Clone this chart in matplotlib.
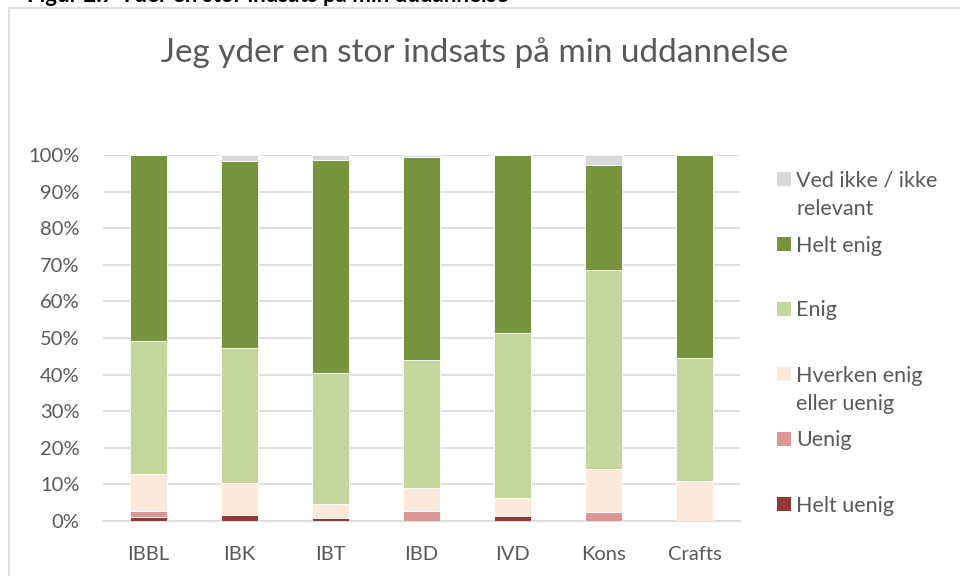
import matplotlib
matplotlib.use("Agg")
import matplotlib.pyplot as plt
from matplotlib.patches import Rectangle
import numpy as np

plt.rcParams['font.family'] = ['Lato', 'DejaVu Sans']

categories = ["IBBL", "IBK", "IBT", "IBD", "IVD", "Kons", "Crafts"]
series_names = ["Helt uenig", "Uenig", "Hverken enig\neller uenig", "Enig", "Helt enig", "Ved ikke / ikke\nrelevant"]
helt_uenig = [1.2, 1.6, 0.9, 0.0, 1.4, 0.0, 0.0]
uenig = [1.5, 0.0, 0.0, 2.8, 0.0, 2.5, 0.0]
hverken = [10.2, 8.7, 3.7, 6.3, 4.9, 11.6, 10.9]
enig = [36.3, 37.1, 35.8, 34.9, 45.2, 54.4, 33.5]
helt_enig = [50.8, 51.0, 58.3, 55.4, 48.5, 28.7, 55.6]
ved_ikke = [0.0, 1.6, 1.3, 0.6, 0.0, 2.8, 0.0]
colors = ["#953735", "#d99694", "#fde9d9", "#c3d69b", "#77933c", "#d9d9d9"]
yticks = [0, 10, 20, 30, 40, 50, 60, 70, 80, 90, 100]
title = "Jeg yder en stor indsats på min uddannelse"
caption = "Figur 2.7 Yder en stor indsats på min uddannelse"

W, H = 960, 576
fig = plt.figure(figsize=(W / 100, H / 100), dpi=100)

def fx(px):
    return px / W

def fy(py):
    return 1 - py / H

# outer chart frame
fig.patches.append(Rectangle((fx(9), fy(590)), fx(980) - fx(9), fy(8) - fy(590),
                             transform=fig.transFigure, fill=False,
                             edgecolor="#d9d9d9", linewidth=1.2))
# cut-off caption at the top edge
fig.text(fx(27), fy(1.5), caption, fontsize=16, fontweight="bold", color="black",
         ha="left", va="baseline")

ax = fig.add_axes([fx(103), fy(521), fx(740) - fx(103), fy(155) - fy(521)])
series = [helt_uenig, uenig, hverken, enig, helt_enig, ved_ikke]
x = np.arange(len(categories))
bottom = np.zeros(len(categories))
for vals, col in zip(series, colors):
    v = np.array(vals) / 100.0
    ax.bar(x, v, bottom=bottom, width=0.4, color=col, edgecolor="white",
           linewidth=0.6, zorder=3)
    bottom += v

ax.set_xlim(-0.5, len(categories) - 0.5)
ax.set_ylim(0, 1.0)
ax.set_yticks([t / 100 for t in yticks])
ax.set_yticklabels([f"{t}%" for t in yticks])
ax.set_xticks(x)
ax.set_xticklabels(categories)
ax.tick_params(axis="both", length=0, labelsize=14.5, colors="#595959")
ax.tick_params(axis="y", pad=17)
ax.tick_params(axis="x", pad=18)
ax.yaxis.grid(True, color="#d9d9d9", linewidth=1.2, zorder=0)
ax.set_axisbelow(True)
for s in ["top", "right", "left"]:
    ax.spines[s].set_visible(False)
ax.spines["bottom"].set_color("#d9d9d9")
ax.spines["bottom"].set_linewidth(1.2)

fig.text(fx(475), fy(53), title, fontsize=24, color="#595959",
         ha="center", va="center")

# legend (Excel-style spacing)
leg_y = [504, 438.7, 374, 309, 244, 179]
for name, col, yy in zip(series_names, colors, leg_y):
    fig.patches.append(Rectangle((fx(777), fy(yy + 7)), fx(14), fy(0) - fy(14),
                                 transform=fig.transFigure, facecolor=col,
                                 edgecolor="none"))
    for i, line in enumerate(name.split("\n")):
        fig.text(fx(796), fy(yy + 7.5 + i * 28.7), line, fontsize=15.5,
                 color="#595959", ha="left", va="baseline")

fig.savefig("out.png", dpi=100)
